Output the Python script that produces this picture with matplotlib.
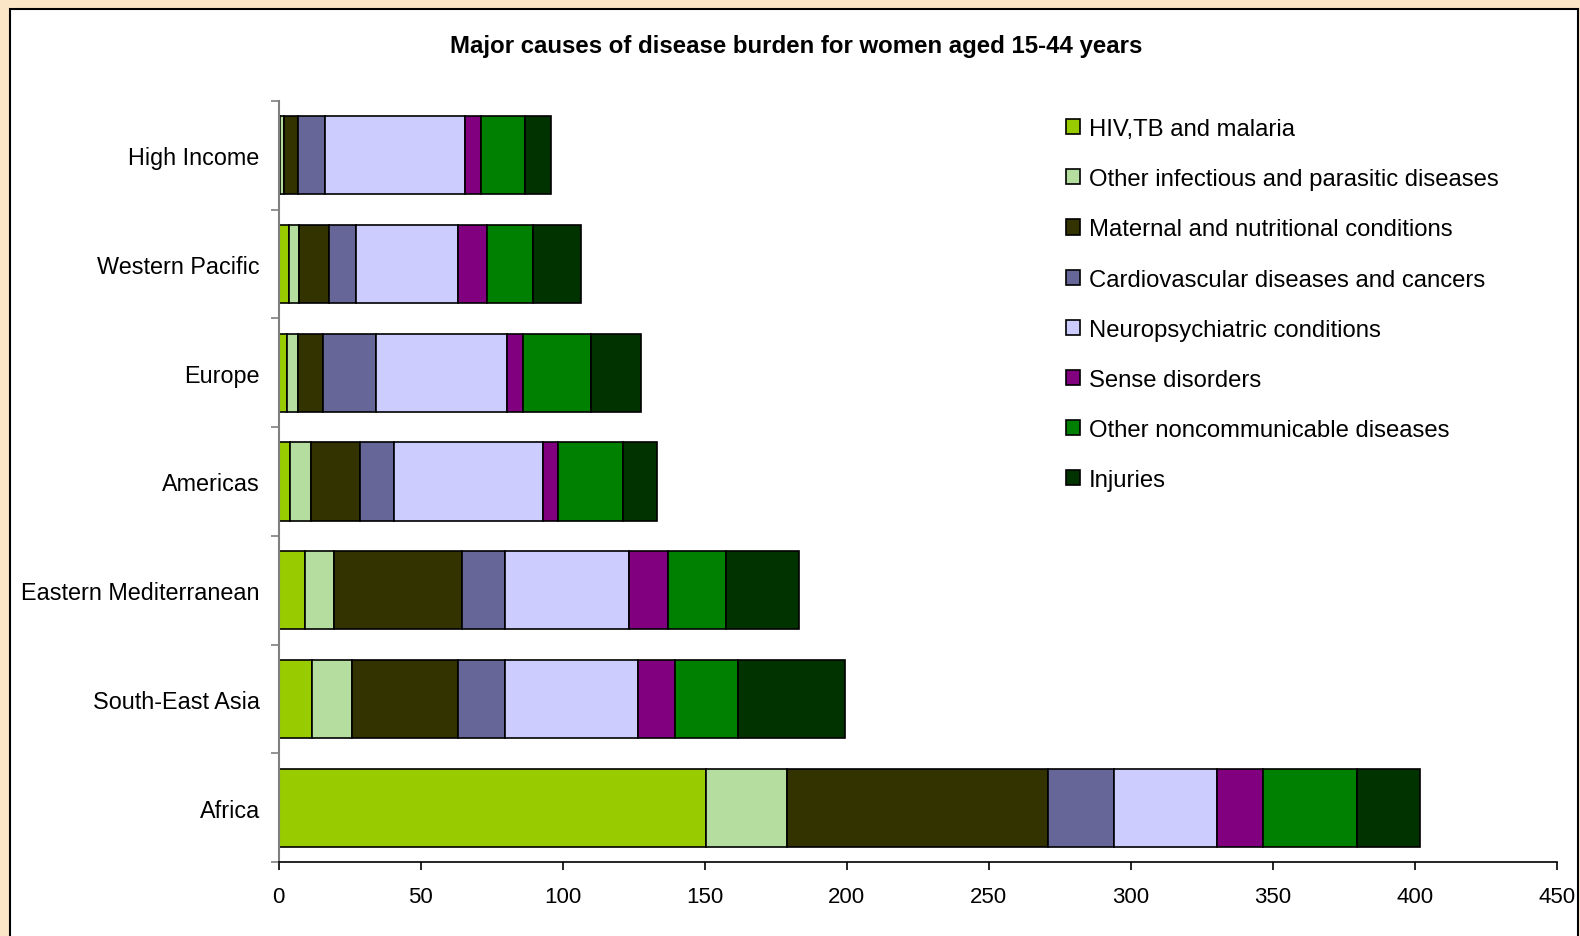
import matplotlib.pyplot as plt
import matplotlib.patches as mpatches
import numpy as np

plt.rcParams["font.family"] = ["Liberation Sans", "DejaVu Sans"]

# Регионы сверху вниз
regions = [
    "High Income",
    "Western Pacific",
    "Europe",
    "Americas",
    "Eastern Mediterranean",
    "South-East Asia",
    "Africa",
]

causes = [
    "HIV,TB and malaria",
    "Other infectious and parasitic diseases",
    "Maternal and nutritional conditions",
    "Cardiovascular diseases and cancers",
    "Neuropsychiatric conditions",
    "Sense disorders",
    "Other noncommunicable diseases",
    "Injuries",
]

colors = ["#99cc00", "#b6dda0", "#333300", "#666699",
          "#ccccff", "#800080", "#008000", "#003300"]

# Значения по причинам (порядок регионов как в regions)
hiv_tb_malaria = [0.5, 3.6, 2.9, 4.2, 9.4, 11.8, 150.3]
other_infectious = [1.5, 3.7, 3.9, 7.1, 10.2, 14.2, 28.7]
maternal = [4.7, 10.4, 9.0, 17.3, 44.9, 37.1, 91.9]
cardio_cancers = [9.6, 9.6, 18.6, 12.2, 15.3, 16.7, 23.0]
neuropsych = [49.2, 35.8, 46.0, 52.4, 43.7, 46.8, 36.5]
sense = [5.9, 10.2, 5.8, 5.3, 13.5, 12.9, 16.0]
other_ncd = [15.4, 16.2, 23.8, 22.9, 20.4, 22.4, 33.3]
injuries = [9.1, 16.8, 17.5, 11.7, 25.7, 37.4, 22.0]

series = [hiv_tb_malaria, other_infectious, maternal, cardio_cancers,
          neuropsych, sense, other_ncd, injuries]

fig = plt.figure(figsize=(15.8, 9.37), dpi=100, facecolor="#fbe6c8")

# белая рамка диаграммы
frame = mpatches.Rectangle((10 / 1580, -0.05), 1568 / 1580, 1 - 9.5 / 937 + 0.05,
                           transform=fig.transFigure, facecolor="white",
                           edgecolor="black", linewidth=1.5, zorder=-5)
fig.patches.append(frame)

ax = fig.add_axes([278.5 / 1580, 1 - 863 / 937, (1557 - 278.5) / 1580, (863 - 102) / 937])
ax.set_facecolor("none")
ax.set_zorder(2)

y = np.arange(len(regions))[::-1]
left = np.zeros(len(regions))
handles = []
for vals, color, label in zip(series, colors, causes):
    bars = ax.barh(y, vals, left=left, height=0.72, color=color,
                   edgecolor="black", linewidth=1.2, label=label)
    handles.append(bars)
    left += np.array(vals)

ax.set_xlim(0, 450)
ax.set_ylim(-0.5, len(regions) - 0.5)
ax.set_xticks(np.arange(0, 451, 50))
ax.set_yticks(y)
ax.set_yticklabels(regions)
ax.set_yticks(np.arange(-0.5, len(regions), 1), minor=True)

ax.tick_params(axis="y", which="major", length=0, pad=13.5, labelsize=16.8)
ax.tick_params(axis="y", which="minor", length=6, width=1.2, color="#808080")
ax.tick_params(axis="x", length=5.5, width=1.2, pad=12, labelsize=16)

for side in ["top", "right"]:
    ax.spines[side].set_visible(False)
ax.spines["left"].set_color("#808080")
ax.spines["left"].set_linewidth(1.5)
ax.spines["bottom"].set_color("black")
ax.spines["bottom"].set_linewidth(1.2)

fig.text(796 / 1580, 1 - 47 / 937, "Major causes of disease burden for women aged 15-44 years",
         ha="center", va="center", fontsize=17.3, fontweight="bold")

fig.legend(handles=handles, labels=causes, loc="upper left",
           bbox_to_anchor=(1066 / 1580, 1 - 119 / 937), frameon=False,
           fontsize=17.2, handlelength=0.6, handleheight=0.6,
           handletextpad=0.35, labelspacing=1.18, borderpad=0, borderaxespad=0)

plt.savefig("out.png", dpi=100, facecolor=fig.get_facecolor())
